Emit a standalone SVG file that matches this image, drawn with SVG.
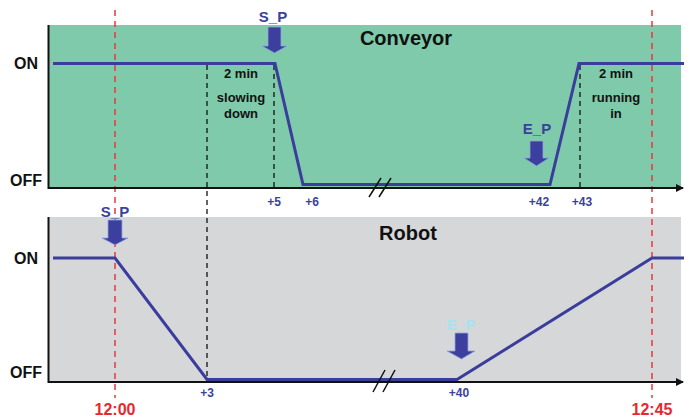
<svg xmlns="http://www.w3.org/2000/svg" width="692" height="419" viewBox="0 0 692 419">
<defs>
<style>
text{font-family:"Liberation Sans",Arial,sans-serif;font-weight:bold}
.lbl{font-size:16px;fill:#111}
.title{font-size:20px;fill:#111}
.note{font-size:13px;fill:#111;text-anchor:middle}
.tick{font-size:12px;fill:#3b4299;text-anchor:middle}
.time{font-size:16px;fill:#e8282e;text-anchor:middle}
.sig{fill:none;stroke:#3b3d9c;stroke-width:3;stroke-linejoin:miter}
.axis{fill:none;stroke:#111;stroke-width:2}
.vdash{stroke:#111;stroke-width:1.3;stroke-dasharray:5,4;fill:none}
.rdash{stroke:#e8383c;stroke-width:1.5;stroke-dasharray:6,5;fill:none}
.brk{stroke:#111;stroke-width:1.5}
.arr{fill:#3d3f9e;stroke:#8ea7dc;stroke-width:0.8}
.pl{font-size:15px;fill:#3b4299;text-anchor:middle}
</style>
<marker id="ah" markerWidth="8" markerHeight="8" refX="7" refY="4" orient="auto" markerUnits="userSpaceOnUse">
<path d="M0,0 L8,4 L0,8 Z" fill="#111"/>
</marker>
</defs>
<rect width="692" height="419" fill="#ffffff"/>

<g id="conveyor-panel">
<rect x="48" y="25" width="633" height="163" fill="#7ecaaa"/>
<text class="title" x="406" y="45" text-anchor="middle">Conveyor</text>
<text class="lbl" x="14" y="69">ON</text>
<text class="lbl" x="10" y="186">OFF</text>
</g>

<g id="robot-panel">
<rect x="48" y="217" width="633" height="164" fill="#d6d7d9"/>
<text class="title" x="408" y="240" text-anchor="middle">Robot</text>
<text class="lbl" x="14" y="264">ON</text>
<text class="lbl" x="10" y="378">OFF</text>
</g>

<g id="connectors">
<line class="vdash" x1="207" y1="65" x2="207" y2="380"/>
<line class="vdash" x1="274" y1="65" x2="274" y2="187"/>
<line class="vdash" x1="580" y1="65" x2="580" y2="187"/>
<line class="rdash" x1="115" y1="10" x2="115" y2="398"/>
<line class="rdash" x1="652" y1="10" x2="652" y2="398"/>
<path class="axis" d="M48.5,25 V188 H683" marker-end="url(#ah)"/>
<path class="axis" d="M48.5,217 V382 H683" marker-end="url(#ah)"/>
<path class="sig" d="M53,63.5 H275 L303,184.5 H550 L579,63.5 H684"/>
<path class="sig" d="M53,258 H115 L207,379.5 H457 L652,258 H684"/>
<line class="brk" x1="369" y1="197" x2="381" y2="178"/>
<line class="brk" x1="379" y1="197" x2="391" y2="178"/>
<line class="brk" x1="373" y1="392" x2="385" y2="370"/>
<line class="brk" x1="383" y1="392" x2="395" y2="370"/>
</g>

<g id="sp-conveyor">
<text class="pl" x="273" y="22">S_P</text>
<path class="arr" d="M268,27 H281 V46 H287 L274.5,53 L262,46 H268 Z"/>
</g>
<g id="ep-conveyor">
<text class="pl" x="537" y="134">E_P</text>
<path class="arr" d="M530,141 H543 V158 H549 L536.5,166 L524,158 H530 Z"/>
</g>
<g id="sp-robot">
<text class="pl" x="115" y="217">S_P</text>
<path class="arr" d="M108,220 H122 V238 H128 L115,245 L102,238 H108 Z"/>
</g>
<g id="ep-robot">
<text class="pl" x="461" y="330" style="fill:#a8e2ee">E_P</text>
<path class="arr" d="M455,333 H468 V351 H475 L461.5,359 L447,351 H455 Z"/>
</g>

<g id="labels">
<text class="note" x="241" y="78">2 min</text>
<text class="note" x="241" y="102">slowing</text>
<text class="note" x="241" y="118">down</text>
<text class="note" x="616" y="78">2 min</text>
<text class="note" x="616" y="102">running</text>
<text class="note" x="616" y="118">in</text>
<text class="tick" x="274" y="206">+5</text>
<text class="tick" x="312" y="206">+6</text>
<text class="tick" x="539" y="206">+42</text>
<text class="tick" x="582" y="206">+43</text>
<text class="tick" x="207" y="397">+3</text>
<text class="tick" x="459" y="397">+40</text>
<text class="time" x="115" y="415">12:00</text>
<text class="time" x="652" y="415">12:45</text>
</g>
</svg>
